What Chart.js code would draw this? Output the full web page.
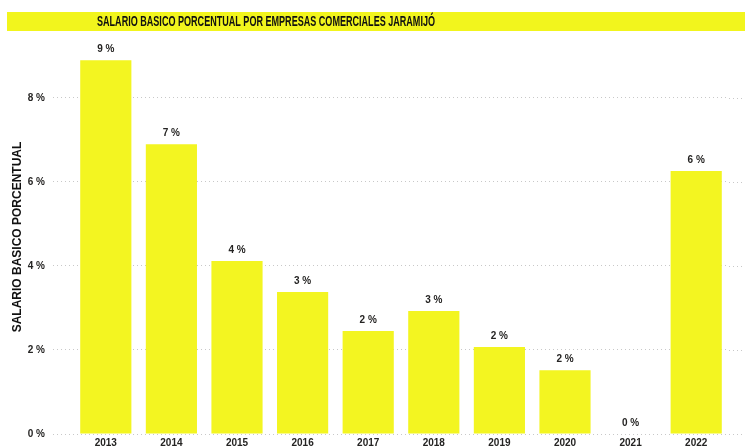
<!DOCTYPE html>
<html>
<head>
<meta charset="utf-8">
<script src="https://cdn.jsdelivr.net/npm/chart.js@4"></script>
<style>
  html, body { margin: 0; padding: 0; background: #ffffff; }
  #wrap { width: 745px; height: 448px; position: relative; }
</style>
</head>
<body>
<div id="wrap"><canvas id="chart"></canvas></div>
<script>
// data
const years = ['2013', '2014', '2015', '2016', '2017', '2018', '2019', '2020', '2021', '2022'];
const salaryPct = [8.9, 6.9, 4.12, 3.38, 2.45, 2.93, 2.07, 1.52, 0, 6.26];
const chartTitle = 'SALARIO BASICO PORCENTUAL POR EMPRESAS COMERCIALES JARAMIJÓ';
const axisTitle = 'SALARIO BASICO PORCENTUAL';

const yellow = '#F3F521';
const textDark = '#252423';
const gridGrey = '#C8C8C8';

// yellow banner with a condensed title text
const bannerPlugin = {
	id: 'banner',
	beforeDraw(chart)
	{
		const c = chart.ctx;
		c.save();
		c.fillStyle = '#F2F51D';
		c.fillRect(7, 12, chart.width - 7, 19);
		c.fillStyle = '#111111';
		c.font = 'bold 15px "Liberation Sans", sans-serif';
		c.textAlign = 'center';
		c.textBaseline = 'middle';
		const w = c.measureText(chartTitle).width;
		const sx = 338 / w;
		c.translate(266, 22);
		c.scale(sx, 1);
		c.fillText(chartTitle, 0, 0);
		c.restore();
	}
};

// dotted gridlines continue to the right edge, as in the reference
const gridExtend = {
	id: 'gridExtend',
	beforeDatasetsDraw(chart)
	{
		const c = chart.ctx;
		const y = chart.scales.y;
		c.save();
		c.strokeStyle = gridGrey;
		c.lineWidth = 1;
		c.setLineDash([1, 3]);
		y.ticks.forEach(t => {
			const py = Math.round(y.getPixelForValue(t.value)) + 0.5;
			c.beginPath();
			c.moveTo(chart.chartArea.right, py);
			c.lineTo(chart.width, py);
			c.stroke();
		});
		c.restore();
	}
};

// value labels above each bar
const valueLabels = {
	id: 'valueLabels',
	afterDatasetsDraw(chart)
	{
		const c = chart.ctx;
		const meta = chart.getDatasetMeta(0);
		c.save();
		c.fillStyle = textDark;
		c.font = 'bold 10px "Liberation Sans", sans-serif';
		c.textAlign = 'center';
		c.textBaseline = 'bottom';
		meta.data.forEach((bar, i) => {
			const v = Math.round(salaryPct[i]);
			c.fillText(v + ' %', bar.x, bar.y - 6);
		});
		c.restore();
	}
};

new Chart(document.getElementById('chart'), {
	type: 'bar',
	data: {
		labels: years,
		datasets: [{
			data: salaryPct,
			backgroundColor: yellow,
			borderWidth: 0,
			barPercentage: 0.78,
			categoryPercentage: 1
		}]
	},
	options: {
		responsive: true,
		maintainAspectRatio: false,
		animation: false,
		layout: { padding: { top: 40, right: 16, left: 0, bottom: -5 } },
		plugins: {
			legend: { display: false },
			tooltip: { enabled: false },
			title: { display: false }
		},
		scales: {
			x: {
				grid: { display: false, drawTicks: false },
				border: { display: false },
				ticks: {
					color: textDark,
					padding: 3,
					font: { size: 10, weight: 'bold', family: '"Liberation Sans", sans-serif' }
				}
			},
			y: {
				min: 0,
				max: 9.38,
				afterBuildTicks(scale)
				{
					scale.ticks = scale.ticks.filter(t => t.value % 2 === 0);
				},
				afterFit(scale)
				{
					scale.width = 73;
				},
				ticks: {
					stepSize: 2,
					padding: 8,
					color: textDark,
					font: { size: 10, weight: 'bold', family: '"Liberation Sans", sans-serif' },
					callback: (v) => v + ' %'
				},
				grid: {
					color: gridGrey,
					tickColor: gridGrey,
					tickLength: 20,
					tickBorderDash: [1, 3],
					lineWidth: 1
				},
				border: { display: false, dash: [1, 3] },
				title: {
					display: true,
					text: axisTitle,
					color: '#111111',
					padding: { top: 10, bottom: 0 },
					font: { size: 12, weight: 'bold', family: '"Liberation Sans", sans-serif' }
				}
			}
		}
	},
	plugins: [bannerPlugin, gridExtend, valueLabels]
});
</script>
</body>
</html>
